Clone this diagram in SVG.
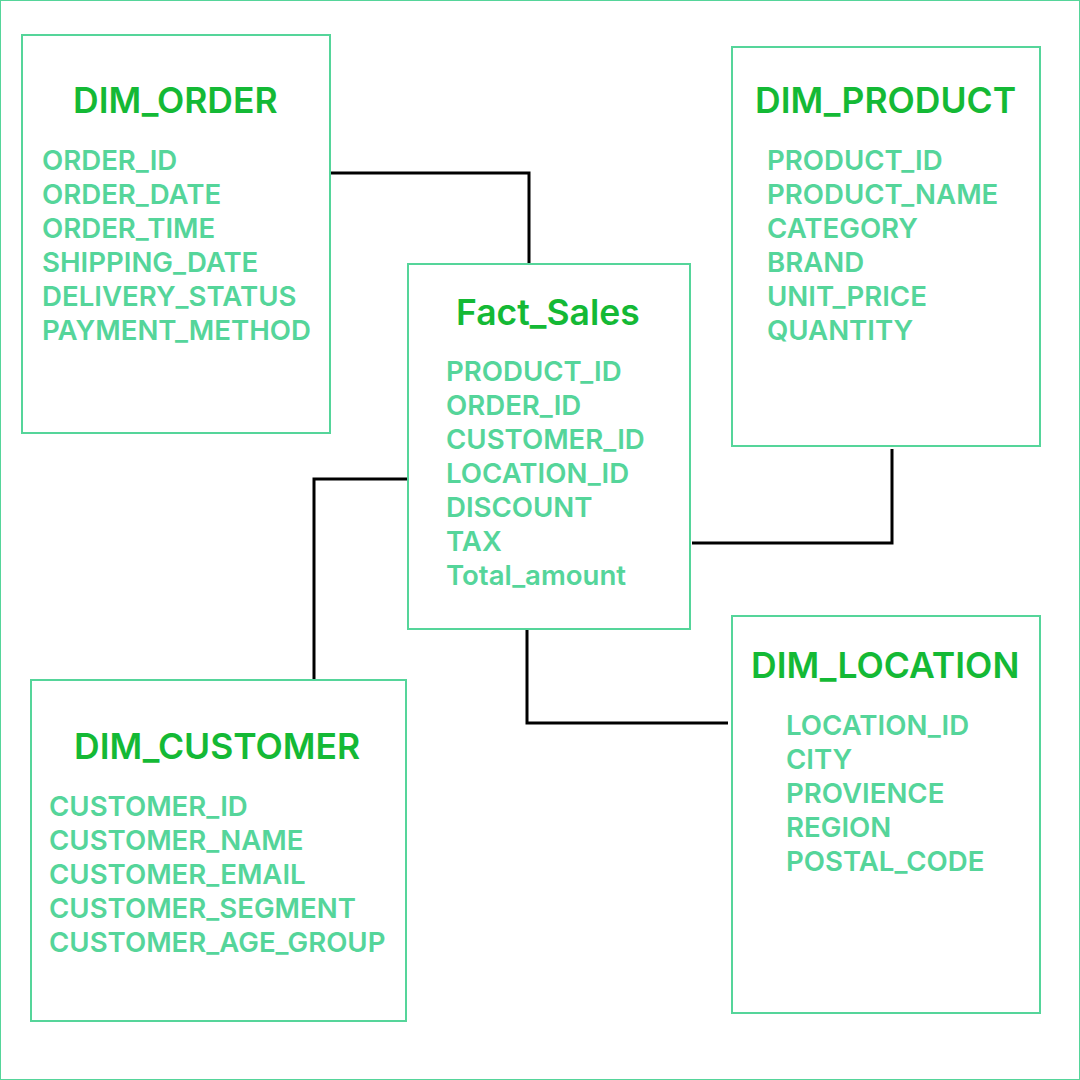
<svg xmlns="http://www.w3.org/2000/svg" width="1080" height="1080" viewBox="0 0 1080 1080">
<style>
.box{fill:#fff;stroke:#55d59a;stroke-width:2}
.title{font-family:Inter,"Noto Sans",sans-serif;font-weight:600;font-size:35.5px;fill:#14b935}
.f{font-family:Inter,"Noto Sans",sans-serif;font-weight:600;font-size:27.6px;fill:#55d59a}
.c{fill:none;stroke:#000;stroke-width:3}
</style>
<rect x="0" y="0" width="1080" height="1080" fill="#fff"/>
<rect x="0.5" y="0.5" width="1079" height="1079" fill="none" stroke="#55d59a" stroke-width="1"/>
<g id="connectors">
<polyline class="c" points="330,173 529,173 529,266"/>
<polyline class="c" points="408,479 314,479 314,680"/>
<polyline class="c" points="692,543 892,543 892,449"/>
<polyline class="c" points="527,630 527,723 728,723"/>
</g>
<g id="dim_order">
<rect class="box" x="22" y="35" width="308" height="398"/>
<text class="title" x="73" y="113">DIM_ORDER</text>
<text class="f" x="42" y="170">ORDER_ID</text>
<text class="f" x="42" y="204">ORDER_DATE</text>
<text class="f" x="42" y="238">ORDER_TIME</text>
<text class="f" x="42" y="272">SHIPPING_DATE</text>
<text class="f" x="42" y="306">DELIVERY_STATUS</text>
<text class="f" x="42" y="340">PAYMENT_METHOD</text>
</g>
<g id="dim_product">
<rect class="box" x="732" y="47" width="308" height="399"/>
<text class="title" x="755" y="113">DIM_PRODUCT</text>
<text class="f" x="767" y="170">PRODUCT_ID</text>
<text class="f" x="767" y="204">PRODUCT_NAME</text>
<text class="f" x="767" y="238">CATEGORY</text>
<text class="f" x="767" y="272">BRAND</text>
<text class="f" x="767" y="306">UNIT_PRICE</text>
<text class="f" x="767" y="340">QUANTITY</text>
</g>
<g id="fact_sales">
<rect class="box" x="408" y="264" width="282" height="365"/>
<text class="title" x="456" y="325">Fact_Sales</text>
<text class="f" x="446" y="381">PRODUCT_ID</text>
<text class="f" x="446" y="415">ORDER_ID</text>
<text class="f" x="446" y="449">CUSTOMER_ID</text>
<text class="f" x="446" y="483">LOCATION_ID</text>
<text class="f" x="446" y="517">DISCOUNT</text>
<text class="f" x="446" y="551">TAX</text>
<text class="f" x="446" y="585">Total_amount</text>
</g>
<g id="dim_customer">
<rect class="box" x="31" y="680" width="375" height="341"/>
<text class="title" x="74" y="759">DIM_CUSTOMER</text>
<text class="f" x="49" y="816">CUSTOMER_ID</text>
<text class="f" x="49" y="850">CUSTOMER_NAME</text>
<text class="f" x="49" y="884">CUSTOMER_EMAIL</text>
<text class="f" x="49" y="918">CUSTOMER_SEGMENT</text>
<text class="f" x="49" y="952">CUSTOMER_AGE_GROUP</text>
</g>
<g id="dim_location">
<rect class="box" x="732" y="616" width="308" height="397"/>
<text class="title" x="751" y="678">DIM_LOCATION</text>
<text class="f" x="786" y="735">LOCATION_ID</text>
<text class="f" x="786" y="769">CITY</text>
<text class="f" x="786" y="803">PROVIENCE</text>
<text class="f" x="786" y="837">REGION</text>
<text class="f" x="786" y="871">POSTAL_CODE</text>
</g>
</svg>
